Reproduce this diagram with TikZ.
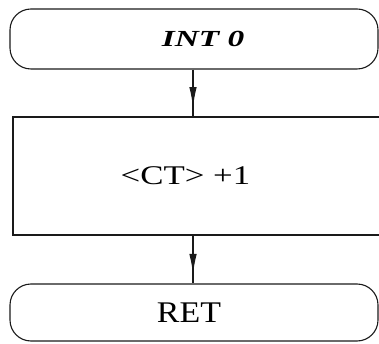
\documentclass[tikz,border=0pt]{standalone}
\usepackage{fontspec}
\setmainfont{Liberation Serif}
\usetikzlibrary{arrows.meta,decorations.markings}
\definecolor{ink}{HTML}{1A1A1A}
\tikzset{
  termbox/.style={draw=ink,line width=1.1pt,rounded corners=21pt,
                  minimum width=368pt,minimum height=60pt,inner sep=0pt},
  procbox/.style={draw=ink,line width=1.1pt,
                  minimum width=377pt,minimum height=118pt,inner sep=0pt},
  flowarr/.style={draw=ink,line width=1.1pt,
                  decoration={markings,mark=at position 0.8 with
                    {\arrow{Latex[length=20pt,width=7.5pt]}}},
                  postaction={decorate}}
}

\begin{document}
\begin{tikzpicture}[x=1pt,y=-1pt]
  \useasboundingbox (0,0) rectangle (379,344);
  \clip (0,0) rectangle (379,344);
  \node[termbox,font=\fontsize{23}{26}\selectfont\bfseries\itshape] (start) at (194,39) {\hspace*{18pt}\scalebox{1.45}[1]{INT 0}};
  \node[procbox,font=\fontsize{27}{29}\selectfont] (incr) at (201.5,176) {\hspace*{-32pt}\scalebox{1.29}[1]{<CT> +1}};
  \node[termbox,minimum height=57pt,font=\fontsize{30}{32}\selectfont] (ret) at (194,312.5) {\hspace*{-10pt}\scalebox{1.13}[1]{RET}};
  \draw[flowarr] ([xshift=-1pt]start.south) -- ([xshift=-1pt]start.south |- incr.north);
  \draw[flowarr] ([xshift=-1pt]ret.north |- incr.south) -- ([xshift=-1pt]ret.north);
\end{tikzpicture}
\end{document}
